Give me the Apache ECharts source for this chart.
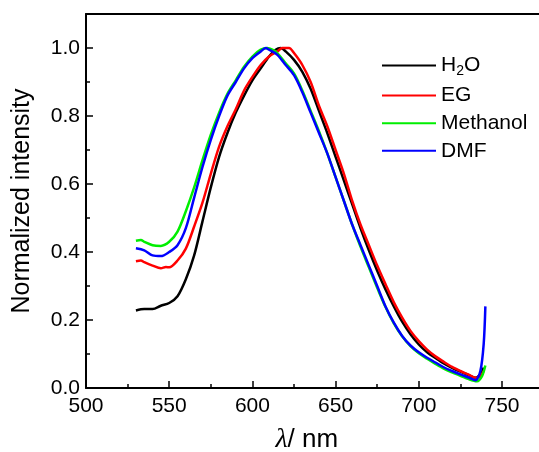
<!DOCTYPE html>
<html><head><meta charset="utf-8">
<script src="https://cdn.jsdelivr.net/npm/echarts@6/dist/echarts.min.js"></script>
<style>html,body{margin:0;padding:0;background:#fff}#c{width:539px;height:452px}</style>
</head><body><div id="c"></div>
<script>
// ---- data ----
const seriesNames = ['H2O', 'EG', 'Methanol', 'DMF'];
const seriesColors = ['#000000', '#ff0000', '#00ee00', '#0000ff'];
const xTicks = [500, 550, 600, 650, 700, 750];
const yTicks = [0.0, 0.2, 0.4, 0.6, 0.8, 1.0];

const waveH2O = [530,535,540,545,550,555,560,565,570,575,580,585,590,595,600,605,610,614,617,620,625,630,635,640,645,650,655,660,665,670,675,680,685,690,695,700,705,710,715,720,725,730,734,737,739];
const valH2O  = [0.228,0.232,0.232,0.242,0.25,0.27,0.32,0.39,0.49,0.59,0.68,0.75,0.81,0.86,0.905,0.94,0.975,0.995,1.0,0.99,0.965,0.93,0.88,0.815,0.75,0.68,0.61,0.54,0.47,0.405,0.345,0.29,0.24,0.195,0.158,0.128,0.105,0.088,0.072,0.059,0.048,0.038,0.03,0.04,0.06];

const waveEG = [530,533,535,540,545,548,550,555,560,565,570,575,580,585,590,595,600,605,610,615,618,622,625,630,635,640,645,650,655,660,665,670,675,680,685,690,695,700,705,710,715,720,725,730,734,737,739];
const valEG  = [0.373,0.375,0.37,0.36,0.352,0.356,0.355,0.375,0.41,0.475,0.545,0.63,0.71,0.77,0.82,0.875,0.915,0.95,0.975,0.99,1.0,1.0,0.985,0.95,0.9,0.83,0.77,0.7,0.63,0.55,0.48,0.42,0.36,0.305,0.252,0.207,0.168,0.138,0.113,0.093,0.077,0.062,0.05,0.039,0.03,0.035,0.05];

const waveMeOH = [530,533,535,540,545,550,555,560,565,570,575,580,585,590,595,600,605,609,612,615,620,625,630,635,640,645,650,655,660,665,670,675,680,685,690,695,700,705,710,715,720,725,730,735,738,740];
const valMeOH  = [0.433,0.435,0.43,0.42,0.418,0.43,0.46,0.52,0.59,0.67,0.745,0.81,0.865,0.905,0.945,0.975,0.995,1.0,0.995,0.985,0.955,0.925,0.875,0.815,0.755,0.69,0.62,0.55,0.48,0.415,0.355,0.295,0.238,0.19,0.152,0.123,0.102,0.086,0.071,0.057,0.046,0.036,0.026,0.02,0.035,0.066];

const waveDMF = [530,535,540,545,550,555,560,565,570,575,580,585,590,595,600,605,608,610,615,620,625,630,635,640,645,650,655,660,665,670,675,680,685,690,695,700,705,710,715,720,725,730,734,737,739,740];
const valDMF  = [0.411,0.405,0.39,0.388,0.40,0.42,0.47,0.56,0.65,0.73,0.80,0.86,0.90,0.94,0.97,0.99,1.0,0.995,0.98,0.95,0.92,0.87,0.81,0.75,0.69,0.62,0.55,0.48,0.42,0.36,0.30,0.24,0.192,0.153,0.125,0.105,0.089,0.075,0.061,0.05,0.04,0.031,0.023,0.05,0.13,0.24];

const waves = [waveH2O, waveEG, waveMeOH, waveDMF];
const vals = [valH2O, valEG, valMeOH, valDMF];

const FONT = 'Liberation Sans, Arial, sans-serif';
const chart = echarts.init(document.getElementById('c'), null, {renderer: 'canvas'});

const series = seriesNames.map((n, i) => ({
  name: n,
  type: 'line',
  showSymbol: false,
  symbol: 'none',
  smooth: 0.3,
  data: waves[i].map((w, j) => [w, vals[i][j]]),
  lineStyle: {color: seriesColors[i], width: 2.5},
  itemStyle: {color: seriesColors[i]},
  z: [2, 3, 4, 5][i],
  animation: false
}));

chart.setOption({
  animation: false,
  backgroundColor: '#fff',
  grid: {left: 86, top: 14, width: 457.6, height: 374, containLabel: false, outerBoundsMode: 'none'},
  legend: {
    orient: 'vertical',
    left: 377, top: 50,
    itemWidth: 54, itemHeight: 14, itemGap: 6.6,
    icon: 'path://M0,6 L54,6 L54,8 L0,8 Z',
    data: seriesNames,
    textStyle: {fontFamily: FONT, fontSize: 21, color: '#000',
      rich: {a: {fontFamily: FONT, fontSize: 21, color: '#000'},
             s: {fontFamily: FONT, fontSize: 14, color: '#000', padding: [12, 0, 0, 0]}}},
    formatter: n => n === 'H2O' ? '{a|H}{s|2}{a|O}' : n
  },
  xAxis: [{
    type: 'value', min: 500, max: 775, interval: 50,
    axisLine: {show: true, lineStyle: {color: '#000', width: 2}},
    axisTick: {show: true, inside: true, length: 7, lineStyle: {color: '#000', width: 1.5}},
    minorTick: {show: true, splitNumber: 2, length: 4, lineStyle: {color: '#000', width: 1.5}},
    splitLine: {show: false},
    axisLabel: {fontFamily: FONT, fontSize: 21, color: '#000', margin: 8,
      formatter: v => xTicks.includes(v) ? String(v) : ''},
    name: '{l|λ}{n|/ nm}',
    nameLocation: 'middle', nameGap: 38,
    nameTextStyle: {padding: [0, 16, 0, 0], rich: {
      l: {fontFamily: 'Liberation Serif, Times New Roman, serif', fontStyle: 'italic', fontSize: 28, color: '#000'},
      n: {fontFamily: FONT, fontSize: 26, color: '#000'}}}
  }, {
    type: 'value', position: 'top', min: 500, max: 775,
    axisLine: {show: true, lineStyle: {color: '#000', width: 2}},
    axisTick: {show: false}, axisLabel: {show: false}, splitLine: {show: false}
  }],
  yAxis: {
    type: 'value', min: 0, max: 1.1, interval: 0.2,
    axisLine: {show: true, lineStyle: {color: '#000', width: 2}},
    axisTick: {show: true, inside: true, length: 7, lineStyle: {color: '#000', width: 1.5}},
    minorTick: {show: true, splitNumber: 2, length: 4, lineStyle: {color: '#000', width: 1.5}},
    splitLine: {show: false},
    axisLabel: {fontFamily: FONT, fontSize: 21, color: '#000', margin: 6,
      formatter: v => yTicks.some(t => Math.abs(t - v) < 1e-9) ? v.toFixed(1) : ''},
    name: 'Normalized intensity',
    nameLocation: 'middle', nameGap: 51,
    nameTextStyle: {fontFamily: FONT, fontSize: 25, color: '#000'}
  },
  series: series
});
</script></body></html>
